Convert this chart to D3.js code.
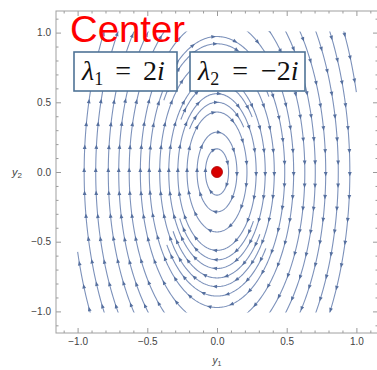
<!DOCTYPE html>
<html>
<head>
<meta charset="utf-8">
<script src="https://cdn.jsdelivr.net/npm/d3@7"></script>
<style>
  body { margin: 0; background: #fff; }
  svg { display: block; }
</style>
</head>
<body>
<script>
// system y1' = y2, y2' = -4 y1  ->  eigenvalues +-2i, orbits are ellipses
const omega = 2;

// streamlines: half width on the y1 axis, and the angle span that is drawn (degrees)
const streamA    = [0.083, 0.143, 0.215, 0.281, 0.346, 0.411, 0.486, 0.55, 0.63, 0.705, 0.78, 0.87, 0.953,
                    1.04, 1.04,
                    0.315, 0.38, 0.445,
                    0.25, 0.32, 0.46];
const streamFrom = [-180, -180, -180, -180, -180, -180, -180, -180, -180, -180, -180, -180, -180,
                    196, 16,
                    212, 214, 216,
                    40, 38, 36];
const streamTo   = [180, 180, 180, 180, 180, 180, 180, 180, 180, 180, 180, 180, 180,
                    216, 36,
                    326, 324, 322,
                    142, 144, 146];

const majorTicks = [-1, -0.5, 0, 0.5, 1];
const minorTicks = [-1.1, -0.9, -0.8, -0.7, -0.6, -0.4, -0.3, -0.2, -0.1,
                    0.1, 0.2, 0.3, 0.4, 0.6, 0.7, 0.8, 0.9, 1.1];

const eigenLabels = [{sub: '1', rest: '2', x: 74, w: 103, gap: 12}, {sub: '2', rest: '\u22122', x: 190, w: 115, gap: 13}];

const W = 377, H = 370;
const frame = {left: 56, right: 378, top: 11, bottom: 333};

const svg = d3.select('body').append('svg').attr('width', W).attr('height', H);

const x = d3.scaleLinear().domain([-1.155, 1.155]).range([frame.left, frame.right]);
const y = d3.scaleLinear().domain([-1.155, 1.155]).range([frame.bottom, frame.top]);

const fmt = d => d3.format('.1f')(d).replace('-', '\u2212');

// clip to the square the field was sampled on
svg.append('clipPath').attr('id', 'field')
    .append('rect')
    .attr('x', x(-1) - 1).attr('y', y(1) - 1)
    .attr('width', x(1) - x(-1) + 2).attr('height', y(-1) - y(1) + 2);

const field = svg.append('g').attr('clip-path', 'url(#field)');
const line = d3.line();

streamA.forEach((a, i) => {
    // walk with decreasing angle: clockwise, as the flow goes
    const pts = [];
    for (let t = streamTo[i]; t >= streamFrom[i]; t -= 1) {
        const r = t * Math.PI / 180;
        pts.push([x(a * Math.cos(r)), y(omega * a * Math.sin(r))]);
    }
    const path = field.append('path')
        .attr('d', line(pts))
        .attr('fill', 'none')
        .attr('stroke', '#7d92bb')
        .attr('stroke-width', 1.1);

    const node = path.node(), len = node.getTotalLength();
    const full = streamTo[i] - streamFrom[i] >= 360;
    const n = Math.max(1, Math.round(len / 23));
    const step = len / n;
    for (let k = 0; k < n; k++) {
        const L = full ? k * step + 2 : k * step + step / 2;
        if (L > len - 2) continue;
        const p = node.getPointAtLength(L), q = node.getPointAtLength(Math.min(len, L + 1.5));
        const ang = Math.atan2(q.y - p.y, q.x - p.x) * 180 / Math.PI;
        field.append('path')
            .attr('d', 'M2.5,0L-2,-1.9L-2,1.9Z')
            .attr('transform', `translate(${p.x},${p.y}) rotate(${ang})`)
            .attr('fill', '#56709f');
    }
});

// equilibrium
svg.append('circle')
    .attr('cx', x(0)).attr('cy', y(0)).attr('r', 5.5)
    .attr('fill', '#d80000').attr('stroke', '#b00000').attr('stroke-width', 0.8);

// frame with inward ticks
const axes = svg.append('g').attr('font-family', 'Liberation Sans, Arial, sans-serif').attr('font-size', 11);

function frameAxis(axisFn, scale, ticks, size, pos, labels) {
    const g = axes.append('g')
        .attr('transform', pos)
        .call(axisFn(scale).tickValues(ticks).tickSize(-size).tickSizeOuter(0).tickPadding(5)
            .tickFormat(labels ? fmt : ''));
    g.select('.domain').remove();
    g.selectAll('.tick line').attr('stroke', '#9a9a9a');
    g.selectAll('.tick text').attr('fill', '#444');
    return g;
}

frameAxis(d3.axisBottom, x, majorTicks, 5, `translate(0,${frame.bottom})`, true);
frameAxis(d3.axisBottom, x, minorTicks, 2.5, `translate(0,${frame.bottom})`, false);
frameAxis(d3.axisTop, x, majorTicks, 5, `translate(0,${frame.top})`, false);
frameAxis(d3.axisTop, x, minorTicks, 2.5, `translate(0,${frame.top})`, false);
frameAxis(d3.axisLeft, y, majorTicks, 5, `translate(${frame.left},0)`, true);
frameAxis(d3.axisLeft, y, minorTicks, 2.5, `translate(${frame.left},0)`, false);
frameAxis(d3.axisRight, y, majorTicks, 5, `translate(${frame.right},0)`, false);
frameAxis(d3.axisRight, y, minorTicks, 2.5, `translate(${frame.right},0)`, false);

axes.append('rect')
    .attr('x', frame.left).attr('y', frame.top)
    .attr('width', frame.right - frame.left).attr('height', frame.bottom - frame.top)
    .attr('fill', 'none').attr('stroke', '#a0a0a0').attr('stroke-width', 1);

// axis titles
const t1 = axes.append('text').attr('x', x(0)).attr('y', 364).attr('text-anchor', 'middle')
    .attr('fill', '#444').attr('font-size', 10);
t1.append('tspan').attr('font-style', 'italic').text('y');
t1.append('tspan').attr('font-size', 7).attr('dy', 2).text('1');

const t2 = axes.append('text').attr('x', 12).attr('y', y(0) + 4)
    .attr('fill', '#444').attr('font-size', 11);
t2.append('tspan').attr('font-style', 'italic').text('y');
t2.append('tspan').attr('font-size', 8).attr('dy', 2).text('2');

// slide annotations
svg.append('text')
    .attr('x', 70).attr('y', 42)
    .attr('font-family', 'Liberation Sans, Arial, sans-serif')
    .attr('font-size', 36)
    .attr('fill', '#f00')
    .attr('textLength', 115).attr('lengthAdjust', 'spacingAndGlyphs')
    .text('Center');

eigenLabels.forEach(d => {
    const g = svg.append('g');
    g.append('rect')
        .attr('x', d.x).attr('y', 52).attr('width', d.w).attr('height', 39)
        .attr('fill', '#fff').attr('stroke', '#4f7396').attr('stroke-width', 1.6);
    const t = g.append('text')
        .attr('x', d.x + 8).attr('y', 80)
        .attr('font-family', 'Liberation Serif, DejaVu Serif, serif')
        .attr('font-size', 28)
        .attr('fill', '#111');
    t.append('tspan').attr('font-style', 'italic').text('\u03bb');
    t.append('tspan').attr('font-size', 18).attr('dy', 5).text(d.sub);
    t.append('tspan').attr('dy', -5).attr('dx', d.gap).text('=');
    t.append('tspan').attr('dx', d.gap).text(d.rest);
    t.append('tspan').attr('font-style', 'italic').text('i');
});
</script>
</body>
</html>
